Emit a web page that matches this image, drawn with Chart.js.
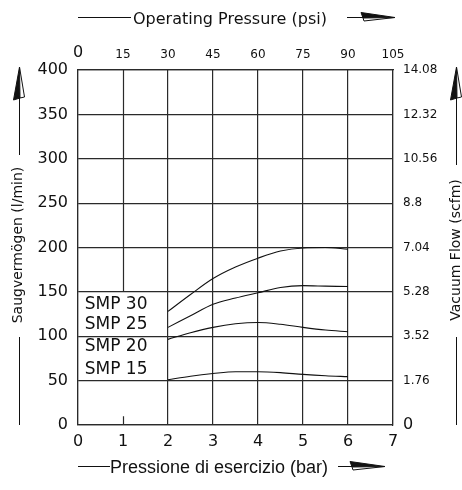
<!DOCTYPE html>
<html><head><meta charset="utf-8">
<script src="https://cdn.jsdelivr.net/npm/chart.js@4/dist/chart.umd.min.js"></script>
<style>html,body{margin:0;padding:0;background:#fff}</style>
</head><body>
<canvas id="c" width="462" height="490" style="display:block;width:462px;height:490px"></canvas>
<script>
// ---- data ----
const pressureBar = [2, 2.5, 3, 3.5, 4, 4.5, 5, 5.5, 6];
const smp30 = [128, 147, 165, 178, 188, 196, 199.5, 200, 198];
const smp25 = [110, 123, 136, 143, 149, 155, 157, 156.5, 156];
const smp20 = [96.5, 104, 110, 114, 115.5, 113.5, 110, 107, 105];
const smp15 = [51, 55, 58, 60, 60, 59, 57, 55.5, 54.5];
const seriesNames = ['SMP 30', 'SMP 25', 'SMP 20', 'SMP 15'];
const barTicks = ['0', '1', '2', '3', '4', '5', '6', '7'];
const psiTicks = ['0', '15', '30', '45', '60', '75', '90', '105'];
const flowTicks = ['0', '50', '100', '150', '200', '250', '300', '350', '400'];
const scfmTicks = ['0', '1.76', '3.52', '5.28', '7.04', '8.8', '10.56', '12.32', '14.08'];
const titleTop = 'Operating Pressure (psi)';
const titleBottom = 'Pressione di esercizio (bar)';
const titleLeft = 'Saugvermögen (l/min)';
const titleRight = 'Vacuum Flow (scfm)';

// ---- styles / layout (not data) ----
const FONT = 'DejaVu Sans';
const INK = '#111';
const GRID = '#2a2a2a';
const labelAnchorX = 0.15;
const labelAnchorY = [136, 113, 88, 63];

const allSeries = [smp30, smp25, smp20, smp15];
const datasets = allSeries.map((vals, i) => ({
  label: seriesNames[i],
  data: pressureBar.map((x, k) => ({ x, y: vals[k] })),
  borderColor: INK,
  borderWidth: 1.1,
  pointRadius: 0,
  fill: false,
  cubicInterpolationMode: 'monotone'
}));

function hArrow(ctx, x0, xb, xt, y, ht, hb) {
  ctx.beginPath(); ctx.moveTo(x0, y); ctx.lineTo(xt, y); ctx.stroke();
  ctx.beginPath(); ctx.moveTo(xb, y - ht); ctx.lineTo(xt, y); ctx.lineTo(xb + 2, y + 0.5); ctx.closePath();
  ctx.fillStyle = INK; ctx.fill(); ctx.stroke();
  ctx.beginPath(); ctx.moveTo(xb + 2, y + 0.5); ctx.lineTo(xt, y); ctx.lineTo(xb + 3, y + hb); ctx.closePath();
  ctx.fillStyle = '#fff'; ctx.fill(); ctx.stroke(); ctx.fillStyle = INK;
}
function vArrow(ctx, cx, yt, yb, y1, wl, wr) {
  ctx.beginPath(); ctx.moveTo(cx, yt); ctx.lineTo(cx, y1); ctx.stroke();
  ctx.beginPath(); ctx.moveTo(cx - wl, yb); ctx.lineTo(cx, yt); ctx.lineTo(cx + 0.5, yb - 2); ctx.closePath();
  ctx.fillStyle = INK; ctx.fill(); ctx.stroke();
  ctx.beginPath(); ctx.moveTo(cx + 0.5, yb - 2); ctx.lineTo(cx, yt); ctx.lineTo(cx + wr, yb - 3); ctx.closePath();
  ctx.fillStyle = '#fff'; ctx.fill(); ctx.stroke(); ctx.fillStyle = INK;
}

const decor = {
  id: 'decor',
  afterDatasetsDraw(chart) {
    const ctx = chart.ctx, xs = chart.scales.x, ys = chart.scales.y;
    ctx.save();
    ctx.strokeStyle = GRID; ctx.lineWidth = 1.2;
    // partial grid line at x = 1 (hidden behind the series labels)
    const px = Math.round(xs.getPixelForValue(1)) + 0.5;
    ctx.beginPath();
    ctx.moveTo(px, ys.getPixelForValue(400)); ctx.lineTo(px, ys.getPixelForValue(150));
    ctx.moveTo(px, ys.getPixelForValue(10)); ctx.lineTo(px, ys.getPixelForValue(0));
    ctx.stroke();
    // series labels
    ctx.fillStyle = INK;
    ctx.font = '17px "' + FONT + '"';
    ctx.textAlign = 'left'; ctx.textBaseline = 'middle';
    seriesNames.forEach((n, i) => ctx.fillText(n, xs.getPixelForValue(labelAnchorX), ys.getPixelForValue(labelAnchorY[i])));
    // titles
    ctx.strokeStyle = INK; ctx.lineWidth = 1;
    // top
    ctx.beginPath(); ctx.moveTo(78, 17.5); ctx.lineTo(131, 17.5); ctx.stroke();
    ctx.font = '16px "' + FONT + '"'; ctx.textBaseline = 'alphabetic';
    ctx.fillText(titleTop, 133, 24);
    hArrow(ctx, 347, 361, 395, 17.5, 5, 3.5);
    // bottom
    ctx.beginPath(); ctx.moveTo(78, 466.5); ctx.lineTo(110, 466.5); ctx.stroke();
    ctx.font = '18px "Liberation Sans"';
    ctx.fillText(titleBottom, 110, 473);
    hArrow(ctx, 338, 350, 385, 466.5, 5, 3.5);
    // left
    vArrow(ctx, 19.5, 67, 100, 155, 6, 5);
    ctx.beginPath(); ctx.moveTo(19.5, 337); ctx.lineTo(19.5, 425); ctx.stroke();
    ctx.save(); ctx.translate(22, 245); ctx.rotate(-Math.PI / 2);
    ctx.font = '14px "' + FONT + '"'; ctx.textAlign = 'center';
    ctx.fillText(titleLeft, 0, 0); ctx.restore();
    // right
    vArrow(ctx, 456.5, 67, 100, 165, 6, 5);
    ctx.beginPath(); ctx.moveTo(456.5, 337); ctx.lineTo(456.5, 425); ctx.stroke();
    ctx.save(); ctx.translate(460, 250); ctx.rotate(-Math.PI / 2);
    ctx.font = '14px "' + FONT + '"'; ctx.textAlign = 'center';
    ctx.fillText(titleRight, 0, 0); ctx.restore();
    ctx.restore();
  }
};

const tickFontZeroBig = (small) => (c) => ({ family: FONT, size: (c.tick && c.tick.value === 0) ? 16 : small });

new Chart(document.getElementById('c'), {
  type: 'line',
  data: { datasets },
  options: {
    responsive: false,
    devicePixelRatio: 1,
    animation: false,
    layout: { padding: 0 },
    plugins: { legend: { display: false }, tooltip: { enabled: false } },
    scales: {
      x: {
        type: 'linear', position: 'bottom', min: 0, max: 7,
        afterFit: s => { s.height = 65; },
        ticks: { stepSize: 1, padding: 7, color: INK, font: { family: FONT, size: 16 },
                 callback: v => barTicks[Math.round(v)] },
        grid: { color: c => (c.tick && c.tick.value === 1) ? 'rgba(0,0,0,0)' : GRID, lineWidth: 1.2, drawTicks: false },
        border: { color: GRID, width: 1.2 }
      },
      x2: {
        type: 'linear', position: 'top', min: 0, max: 7,
        afterFit: s => { s.height = 70; },
        ticks: { stepSize: 1, padding: 8, color: INK, font: tickFontZeroBig(12),
                 callback: v => psiTicks[Math.round(v)] },
        grid: { drawOnChartArea: false, drawTicks: false },
        border: { color: GRID, width: 1.2 }
      },
      y: {
        type: 'linear', position: 'left', min: 0, max: 400,
        afterFit: s => { s.width = 78; },
        ticks: { stepSize: 50, padding: 10, color: INK, font: { family: FONT, size: 16 },
                 callback: v => flowTicks[Math.round(v / 50)] },
        grid: { color: GRID, lineWidth: 1.2, drawTicks: false },
        border: { color: GRID, width: 1.2 }
      },
      y2: {
        type: 'linear', position: 'right', min: 0, max: 400,
        afterFit: s => { s.width = 69; },
        ticks: { stepSize: 50, padding: 10, color: INK, font: tickFontZeroBig(12),
                 callback: v => scfmTicks[Math.round(v / 50)] },
        grid: { drawOnChartArea: false, drawTicks: false },
        border: { color: GRID, width: 1.2 }
      }
    }
  },
  plugins: [decor]
});
</script>
</body></html>
